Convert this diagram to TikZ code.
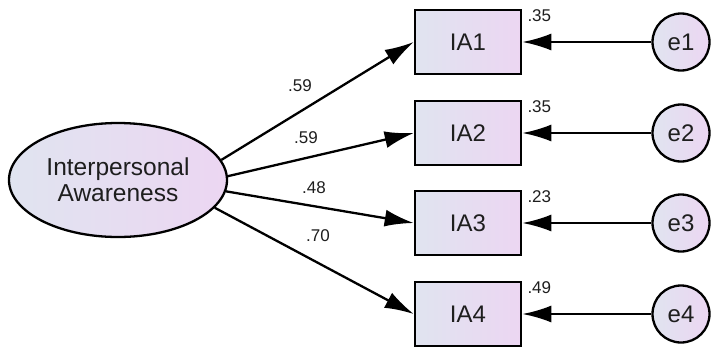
\documentclass[tikz,border=0pt]{standalone}
\usepackage{fontspec}
\setmainfont{Liberation Sans}
\usetikzlibrary{arrows.meta,shapes.geometric}
\definecolor{cl}{RGB}{224,228,240}
\definecolor{cr}{RGB}{236,214,242}
\definecolor{txt}{RGB}{30,30,30}
\begin{document}
\begin{tikzpicture}[x=1pt,y=-1pt,
  obs/.style={draw, line width=2.6pt, minimum width=106pt, minimum height=64pt, inner sep=0pt,
    left color=cl, right color=cr, text=txt, font=\fontsize{24}{27}\selectfont},
  err/.style={circle, draw, line width=2.3pt, minimum size=57pt, inner sep=0pt,
    left color=cl, right color=cr, text=txt, font=\fontsize{24}{27}\selectfont},
  lat/.style={ellipse, draw, line width=2.3pt, minimum width=218pt, minimum height=114pt, inner sep=0pt,
    left color=cl, right color=cr, text=txt, align=center, font=\fontsize{24.5}{26}\selectfont},
  arr/.style={-{Latex[length=29pt,width=17pt]}, line width=2.3pt},
  num/.style={text=txt, inner sep=0pt, font=\fontsize{17}{20}\selectfont}]
\useasboundingbox (0,0) rectangle (711,348);
\node[lat] (lat) at (118,180) {Interpersonal\\Awareness};
\node[obs] (ia1) at (468,42) {IA1};
\node[obs] (ia2) at (468,133) {IA2};
\node[obs] (ia3) at (468,223) {IA3};
\node[obs] (ia4) at (468,314) {IA4};
\node[err] (e1) at (681,42) {e1};
\node[err] (e2) at (681,133) {e2};
\node[err] (e3) at (681,223) {e3};
\node[err] (e4) at (681,314) {e4};
\draw[arr] (lat.11) -- (ia1.west);
\draw[arr] (lat.2.6) -- (ia2.west);
\draw[arr] (lat.-6.7) -- (ia3.west);
\draw[arr] (lat.-16) -- (ia4.west);
\draw[arr] (e1) -- (ia1);
\draw[arr] (e2) -- (ia2);
\draw[arr] (e3) -- (ia3);
\draw[arr] (e4) -- (ia4);
\node[num] (l1) at (300,86) {.59};
\node[num] (l2) at (306,138) {.59};
\node[num] (l3) at (314,188) {.48};
\node[num] (l4) at (318,236) {.70};
\node[num, anchor=base west] (r1) at ([shift={(5,13)}]ia1.north east) {.35};
\node[num, anchor=base west] (r2) at ([shift={(5,13)}]ia2.north east) {.35};
\node[num, anchor=base west] (r3) at ([shift={(5,13)}]ia3.north east) {.23};
\node[num, anchor=base west] (r4) at ([shift={(5,13)}]ia4.north east) {.49};
\end{tikzpicture}
\end{document}
